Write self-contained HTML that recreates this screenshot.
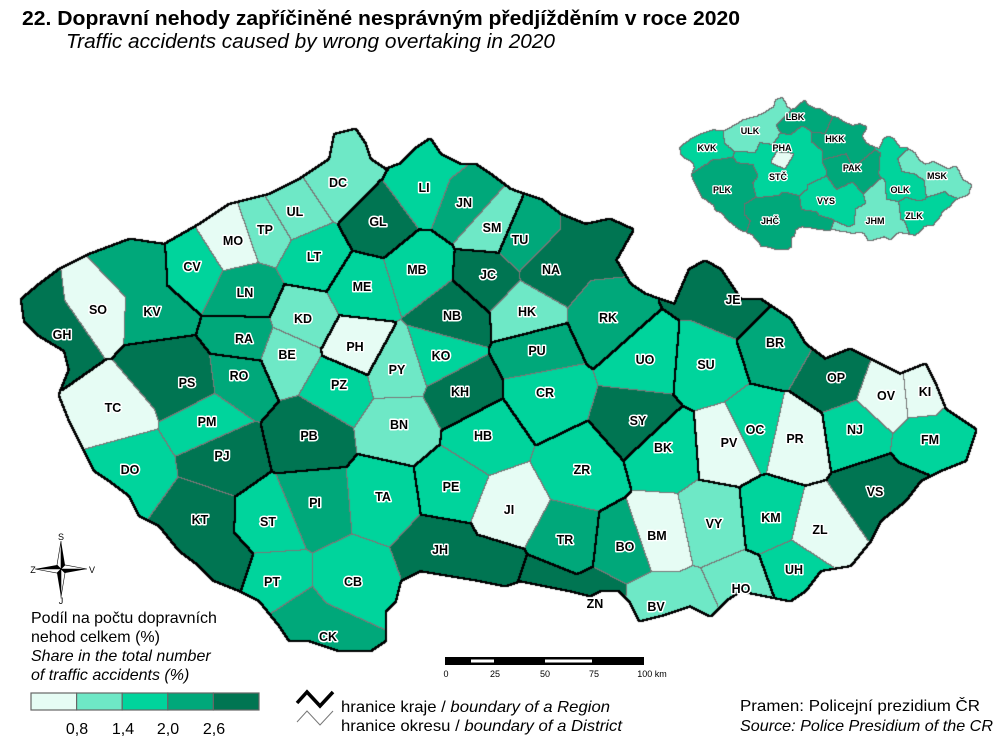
<!DOCTYPE html>
<html><head><meta charset="utf-8"><style>
html,body{margin:0;padding:0;background:#fff;}
#w{position:relative;width:1005px;height:744px;overflow:hidden;font-family:"Liberation Sans",Arial,sans-serif;}
canvas,svg{position:absolute;left:0;top:0;}
.l{font:bold 12.5px "Liberation Sans",sans-serif;fill:#000;stroke:#fff;stroke-width:3px;paint-order:stroke;stroke-linejoin:round;}
.s{font:bold 9px "Liberation Sans",sans-serif;fill:#000;stroke:#fff;stroke-width:2.5px;paint-order:stroke;stroke-linejoin:round;}
</style></head><body><div id="w">
<canvas id="c" width="1005" height="744"></canvas>
<svg width="1005" height="744" id="sv">
<text x="22" y="25" textLength="718" lengthAdjust="spacingAndGlyphs" style="font:bold 20.5px 'Liberation Sans',sans-serif">22. Dopravní nehody zapříčiněné nesprávným předjížděním v roce 2020</text>
<text x="66" y="48" textLength="489" lengthAdjust="spacingAndGlyphs" style="font:italic 20px 'Liberation Sans',sans-serif">Traffic accidents caused by wrong overtaking in 2020</text>
<g id="labs"></g>
<g style="font:16px 'Liberation Sans',sans-serif">
<text x="31" y="623">Podíl na počtu dopravních</text>
<text x="31" y="642">nehod celkem (%)</text>
<text x="31" y="661" font-style="italic">Share in the total number</text>
<text x="31" y="680" font-style="italic">of traffic accidents (%)</text>
</g>
<g stroke="#666" stroke-width="1.2">
<rect x="31" y="693" width="45.6" height="17" fill="#e6fcf4"/>
<rect x="76.6" y="693" width="45.6" height="17" fill="#6ee8c6"/>
<rect x="122.2" y="693" width="45.6" height="17" fill="#00d49c"/>
<rect x="167.8" y="693" width="45.6" height="17" fill="#00a87a"/>
<rect x="213.4" y="693" width="45.6" height="17" fill="#007552"/>
</g>
<g style="font:16px 'Liberation Sans',sans-serif" text-anchor="middle">
<text x="77" y="734">0,8</text><text x="123" y="734">1,4</text><text x="168" y="734">2,0</text><text x="214" y="734">2,6</text>
</g>
<rect x="445" y="657" width="199" height="8" fill="#000"/>
<rect x="471" y="659.5" width="23" height="3" fill="#fff"/>
<rect x="545" y="659.5" width="47" height="3" fill="#fff"/>
<g style="font:9px 'Liberation Sans',sans-serif" text-anchor="middle">
<text x="446" y="677">0</text><text x="495" y="677">25</text><text x="545" y="677">50</text><text x="594" y="677">75</text><text x="652" y="677">100 km</text>
</g>
<polyline points="297,703 307,692 320,706 333,692" fill="none" stroke="#000" stroke-width="3.5"/>
<polyline points="297,722 307,711 320,725 333,711" fill="none" stroke="#777" stroke-width="1"/>
<g style="font:16px 'Liberation Sans',sans-serif">
<text x="341" y="712" textLength="269" lengthAdjust="spacingAndGlyphs">hranice kraje / <tspan font-style="italic">boundary of a Region</tspan></text>
<text x="341" y="731" textLength="281" lengthAdjust="spacingAndGlyphs">hranice okresu / <tspan font-style="italic">boundary of a District</tspan></text>
<text x="740" y="711" textLength="240" lengthAdjust="spacingAndGlyphs">Pramen: Policejní prezidium ČR</text>
<text x="740" y="731" textLength="253" lengthAdjust="spacingAndGlyphs" font-style="italic">Source: Police Presidium of the CR</text>
</g>
<g transform="translate(61,569)">
<polygon points="0,-28 4,-4 0,0" fill="#000"/><polygon points="0,-28 -4,-4 0,0" fill="#fff" stroke="#000" stroke-width="0.6"/>
<polygon points="0,28 -4,4 0,0" fill="#000"/><polygon points="0,28 4,4 0,0" fill="#fff" stroke="#000" stroke-width="0.6"/>
<polygon points="-26,0 -4,-4 0,0" fill="#000"/><polygon points="-26,0 -4,4 0,0" fill="#fff" stroke="#000" stroke-width="0.6"/>
<polygon points="26,0 4,4 0,0" fill="#000"/><polygon points="26,0 4,-4 0,0" fill="#fff" stroke="#000" stroke-width="0.6"/>
</g>
<g style="font:9px 'Liberation Sans',sans-serif" text-anchor="middle">
<text x="61" y="540">S</text><text x="61" y="604">J</text><text x="33" y="573">Z</text><text x="92" y="573">V</text>
</g>
</svg>
</div>
<script>
var COL=["#e6fcf4","#6ee8c6","#00d49c","#00a87a","#007552"];
var S=[
["GH",62,335,4,"KVK",1],["GH",35,318,4,"KVK",0],["SO",98,310,0,"KVK",1],["KV",152,312,3,"KVK",1],["KV",140,270,3,"KVK",0],
["CV",192,267,2,"ULK",1],["MO",233,241,0,"ULK",1],["TP",265,230,1,"ULK",1],["DC",338,183,1,"ULK",1],["DC",350,150,1,"ULK",0],["UL",295,212,1,"ULK",1],["LT",314,257,2,"ULK",1],["LN",245,293,3,"ULK",1],
["LI",424,188,2,"LBK",1],["LI",430,160,2,"LBK",0],["GL",378,222,4,"LBK",1],["JN",464,203,3,"LBK",1],["SM",492,228,1,"LBK",1],
["JC",488,275,4,"HKK",1],["TU",520,240,3,"HKK",1],["NA",551,270,4,"HKK",1],["NA",600,240,4,"HKK",0],["HK",527,312,1,"HKK",1],["RK",608,318,3,"HKK",1],
["PU",537,351,3,"PAK",1],["CR",545,393,2,"PAK",1],["UO",645,360,2,"PAK",1],["SY",638,421,4,"PAK",1],
["RA",244,339,3,"STC",1],["KD",303,319,1,"STC",1],["ME",362,287,2,"STC",1],["MB",417,270,2,"STC",1],["NB",452,316,4,"STC",1],["PH",355,347,0,"PHA",1],["PZ",339,385,2,"STC",1],["PY",397,370,1,"STC",1],["KO",441,356,2,"STC",1],["BE",287,355,1,"STC",1],["KH",460,392,4,"STC",1],["PB",309,436,4,"STC",1],["BN",399,425,1,"STC",1],
["PS",187,383,4,"PLK",1],["PS",160,368,4,"PLK",0],["RO",239,376,3,"PLK",1],["PM",207,422,2,"PLK",1],["TC",113,408,0,"PLK",1],["PJ",222,456,4,"PLK",1],["DO",130,470,2,"PLK",1],["KT",200,520,4,"PLK",1],["KT",220,565,4,"PLK",0],
["ST",268,522,2,"JHC",1],["PI",315,503,3,"JHC",1],["TA",383,497,2,"JHC",1],["PT",272,582,2,"JHC",1],["CB",353,582,2,"JHC",1],["JH",440,550,4,"JHC",1],["JH",490,572,4,"JHC",0],["CK",328,637,3,"JHC",1],["CK",300,625,3,"JHC",0],
["HB",483,436,2,"VYS",1],["PE",451,487,2,"VYS",1],["JI",509,510,0,"VYS",1],["ZR",582,470,2,"VYS",1],["TR",565,540,3,"VYS",1],
["BK",663,448,2,"JHM",1],["BM",657,536,0,"JHM",1],["BO",625,547,3,"JHM",1],["VY",714,524,1,"JHM",1],["ZN",595,604,4,"JHM",1],["ZN",545,590,4,"JHM",0],["BV",656,607,1,"JHM",1],["BV",690,612,1,"JHM",0],["HO",741,589,1,"JHM",1],
["JE",733,300,4,"OLK",1],["JE",705,275,4,"OLK",0],["SU",706,365,2,"OLK",1],["OC",755,430,2,"OLK",1],["PV",729,443,0,"OLK",1],["PR",795,439,0,"OLK",1],
["BR",775,343,3,"MSK",1],["OP",836,378,4,"MSK",1],["OV",886,396,0,"MSK",1],["KI",925,392,0,"MSK",1],["NJ",855,430,2,"MSK",1],["FM",930,440,2,"MSK",1],["FM",958,428,2,"MSK",0],
["KM",771,518,2,"ZLK",1],["ZL",820,530,0,"ZLK",1],["UH",794,570,2,"ZLK",1],["VS",875,492,4,"ZLK",1],["VS",905,500,4,"ZLK",0]
];
var O=[22,300,40,285,60,270,90,255,130,240,165,245,200,225,230,205,270,195,300,180,330,160,335,135,355,130,365,145,370,160,385,170,400,165,415,150,430,140,440,155,460,165,475,165,490,175,510,190,540,200,560,215,585,225,610,220,632,230,615,260,630,285,645,295,660,300,675,305,690,270,705,262,720,270,740,300,760,300,790,320,805,345,825,360,850,350,870,360,900,375,925,365,935,385,945,410,960,420,975,430,965,460,940,470,920,480,905,500,880,520,870,540,850,565,820,570,805,590,790,600,765,595,740,590,725,600,710,615,690,605,660,615,640,620,630,600,620,590,600,590,590,595,570,590,545,585,520,580,505,585,480,580,450,575,420,570,400,580,395,600,385,610,385,640,370,650,340,650,310,640,290,640,280,625,260,600,240,590,215,580,200,565,180,550,160,525,140,515,130,495,110,480,95,470,80,440,70,420,60,395,70,370,65,350,40,335,25,320];
var RC={KVK:2,ULK:1,LBK:3,HKK:3,PHA:0,STC:2,PLK:3,JHC:3,VYS:2,PAK:3,JHM:1,OLK:2,MSK:1,ZLK:2};
var W=1005,H=744;
var cv=document.getElementById('c'),ctx=cv.getContext('2d');
var m=document.createElement('canvas');m.width=W;m.height=H;var mc=m.getContext('2d');
mc.beginPath();mc.moveTo(O[0],O[1]);for(var i=2;i<O.length;i+=2)mc.lineTo(O[i],O[i+1]);mc.closePath();mc.fillStyle='#000';mc.fill();
var md=mc.getImageData(0,0,W,H).data;
var lab=new Int16Array(W*H).fill(-1);
for(var y=110;y<670;y++)for(var x=10;x<990;x++){var p=y*W+x;if(md[p*4+3]<128)continue;var b=-1,bd=1e9;for(var k=0;k<S.length;k++){var dx=x-S[k][1],dy=y-S[k][2],d=dx*dx+dy*dy;if(d<bd){bd=d;b=k;}}lab[p]=b;}
function rgb(h){return [parseInt(h.substr(1,2),16),parseInt(h.substr(3,2),16),parseInt(h.substr(5,2),16)];}
var CR=COL.map(rgb);
var img=ctx.createImageData(W,H),d=img.data;
for(var i=0;i<W*H;i++){d[i*4]=255;d[i*4+1]=255;d[i*4+2]=255;d[i*4+3]=255;}
function put(p,c){d[p*4]=c[0];d[p*4+1]=c[1];d[p*4+2]=c[2];}
for(var y=110;y<670;y++)for(var x=10;x<990;x++){var p=y*W+x,l=lab[p];
 if(l<0){
  var near=false;for(var dy=-2;dy<=2&&!near;dy++)for(var dx=-2;dx<=2;dx++){if(lab[(y+dy)*W+x+dx]>=0){near=true;break;}}
  if(near)put(p,[0,0,0]);continue;}
 var reg=false,dis=false;
 for(var dy=-1;dy<=1;dy++)for(var dx=-1;dx<=1;dx++){var q=lab[(y+dy)*W+x+dx];if(q<0)continue;if(S[q][4]!=S[l][4])reg=true;else if(S[q][0]!=S[l][0]&&dx>=0&&dy>=0)dis=true;}
 if(reg)put(p,[0,0,0]);else if(dis)put(p,[120,120,120]);else put(p,CR[S[l][3]]);
}
var ix0=680,iy0=98,sc=0.305,scy=0.29;
var ilab=new Int16Array(W*H).fill(-1);
for(var y=95;y<260;y++)for(var x=675;x<980;x++){var sx=Math.round(22+(x-ix0)/sc),sy=Math.round(130+(y-iy0)/scy);if(sx<0||sx>=W||sy<0||sy>=H)continue;ilab[y*W+x]=lab[sy*W+sx];}
for(var y=95;y<260;y++)for(var x=675;x<980;x++){var p=y*W+x,l=ilab[p];
 if(l<0){var near=false;for(var dy=-1;dy<=1;dy++)for(var dx=-1;dx<=1;dx++){if(ilab[(y+dy)*W+x+dx]>=0)near=true;}if(near)put(p,[110,110,110]);continue;}
 var reg=false;for(var dy=0;dy<=1;dy++)for(var dx=0;dx<=1;dx++){var q=ilab[(y+dy)*W+x+dx];if(q>=0&&S[q][4]!=S[l][4])reg=true;}
 put(p,reg?[110,110,110]:CR[RC[S[l][4]]]);
}
ctx.putImageData(img,0,0);
var g=document.getElementById('labs'),h='';
S.forEach(function(s){if(s[5])h+='<text class="l" text-anchor="middle" x="'+s[1]+'" y="'+(s[2]+4)+'">'+s[0]+'</text>';});
var IL=[["LBK",795,117],["ULK",750,131],["HKK",835,139],["KVK",707,148],["PHA",782,148],["PAK",852,168],["MSK",937,176],["STČ",778,177],["OLK",900,190],["PLK",722,190],["VYS",826,201],["ZLK",914,216],["JHČ",770,221],["JHM",875,221]];
IL.forEach(function(s){h+='<text class="s" text-anchor="middle" x="'+s[1]+'" y="'+(s[2]+3)+'">'+s[0]+'</text>';});
g.innerHTML=h;
</script>
</body></html>
